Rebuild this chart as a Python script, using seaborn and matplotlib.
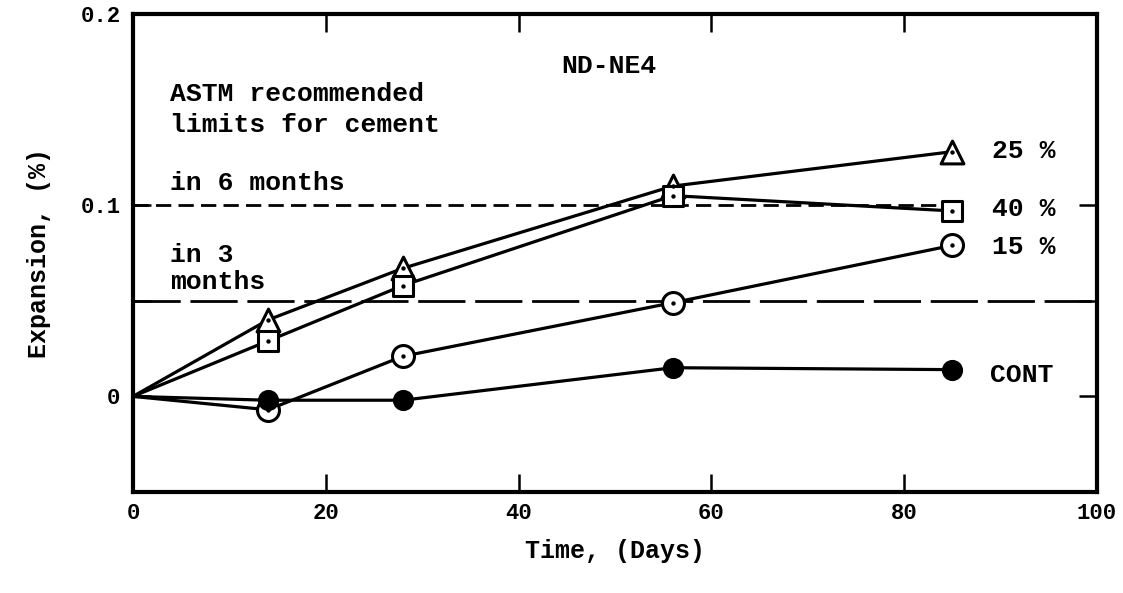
import matplotlib
matplotlib.use("Agg")
import matplotlib.pyplot as plt
import seaborn as sns
import pandas as pd

# ---- data ----
days = [0, 14, 28, 56, 85]
cont = [0.0, -0.002, -0.002, 0.015, 0.014]
p15 = [0.0, -0.007, 0.021, 0.049, 0.079]
p25 = [0.0, 0.040, 0.067, 0.110, 0.128]
p40 = [0.0, 0.029, 0.058, 0.105, 0.097]
series_names = ["25 %", "40 %", "15 %", "CONT"]
limit_6m = 0.1
limit_3m = 0.05
x_ticks = [0, 20, 40, 60, 80, 100]
y_ticks = [0, 0.05, 0.1, 0.2]
y_ticklabels = ["0", "", "0.1", "0.2"]

sns.set_theme(style="white")
FONT = ["Liberation Mono", "DejaVu Sans Mono"]
plt.rcParams["font.family"] = FONT
plt.rcParams["font.weight"] = "bold"

fig = plt.figure(figsize=(11.23, 5.93), dpi=100)
ax = fig.add_axes([133 / 1123, 1 - 492 / 593, (1097 - 133) / 1123, (492 - 14) / 593])

# reference limit lines
ax.hlines(limit_6m, 0, 86, color="black", lw=2.0, linestyles=(0, (5.5, 2.6)), zorder=1)
ax.axhline(limit_3m, color="black", lw=2.0, dashes=(17, 3.5), zorder=1)

series = {"25 %": p25, "40 %": p40, "15 %": p15, "CONT": cont}
markers = {"25 %": "^", "40 %": "s", "15 %": "o", "CONT": "o"}
sizes = {"25 %": 270, "40 %": 210, "15 %": 250, "CONT": 170}
faces = {"25 %": "white", "40 %": "white", "15 %": "white", "CONT": "black"}

for name in series_names:
    vals = series[name]
    df = pd.DataFrame({"day": days, "exp": vals})
    sns.lineplot(data=df, x="day", y="exp", ax=ax, color="black", lw=2.3,
                 zorder=2, legend=False)
    pts = df.iloc[1:]
    sns.scatterplot(data=pts, x="day", y="exp", ax=ax, marker=markers[name],
                    s=sizes[name], facecolor=faces[name], edgecolor="black",
                    linewidth=2.2, zorder=3, legend=False)
    if faces[name] == "white":
        sns.scatterplot(data=pts, x="day", y="exp", ax=ax, marker="o", s=10,
                        color="black", linewidth=0, zorder=4, legend=False)

ax.set_xlim(0, 100)
ax.set_ylim(-0.05, 0.2)
ax.set_xticks(x_ticks)
ax.set_xticklabels([str(t) for t in x_ticks])
ax.set_yticks(y_ticks)
ax.set_yticklabels(y_ticklabels)
ax.tick_params(axis="both", direction="in", length=13, width=1.8,
               top=True, right=True, bottom=True, left=True,
               labelsize=16, colors="black")
ax.tick_params(axis="x", pad=8)
ax.tick_params(axis="y", pad=9)
for sp in ax.spines.values():
    sp.set_visible(True)
    sp.set_color("black")
    sp.set_linewidth(3.0)

ax.set_xlabel("Time, (Days)", fontsize=18, color="black", fontweight="bold")
ax.set_ylabel("Expansion, (%)", fontsize=18, color="black", fontweight="bold")
ax.xaxis.set_label_coords(0.5, -0.098)
ax.yaxis.set_label_coords(-0.085, 0.5)

tk = dict(fontsize=19, color="black", va="center", fontweight="bold")
ax.text(44.4, 0.173, "ND-NE4", ha="left", **tk)
ax.text(3.8, 0.158, "ASTM recommended", ha="left", **tk)
ax.text(3.8, 0.1417, "limits for cement", ha="left", **tk)
ax.text(3.8, 0.1115, "in 6 months", ha="left", **tk)
ax.text(3.8, 0.074, "in 3", ha="left", **tk)
ax.text(3.8, 0.060, "months", ha="left", **tk)
ax.text(89.1, 0.1286, "25 %", ha="left", **tk)
ax.text(89.1, 0.098, "40 %", ha="left", **tk)
ax.text(89.1, 0.078, "15 %", ha="left", **tk)
ax.text(88.9, 0.011, "CONT", ha="left", **tk)

fig.savefig("out.png", dpi=100, facecolor="white")
